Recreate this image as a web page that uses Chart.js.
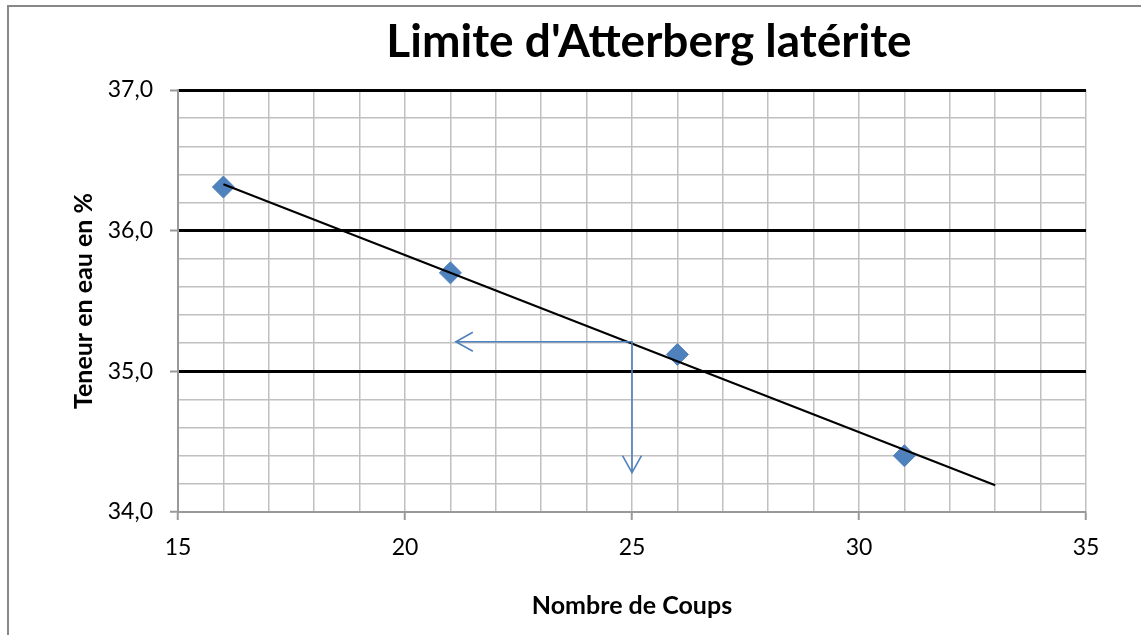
<!DOCTYPE html>
<html lang="fr">
    <head>
        <meta charset="UTF-8" />
        <title>Limite d'Atterberg latérite</title>
        <script src="https://cdn.jsdelivr.net/npm/chart.js@4.4.1/dist/chart.umd.min.js"></script>
        <style>
            html, body { margin: 0; padding: 0; background: #fff; overflow: hidden; }
            #cadre {
                position: absolute; left: 7px; top: 5px; width: 2000px; height: 2000px;
                border-top: 2px solid #888; border-left: 2px solid #888; pointer-events: none;
            }
            #graph { position: absolute; left: 0; top: 0; }
        </style>
    </head>
    <body>
        <canvas id="graph" width="1141" height="635"></canvas>
        <div id="cadre"></div>

        <script>
            // essais : nombre de coups / teneur en eau
            const coups = [16, 21, 26, 31];
            const teneur = [36.31, 35.70, 35.12, 34.40];

            // droite de tendance (extrémités)
            const tendanceX = [16, 33];
            const tendanceY = [36.33, 34.19];

            // lecture à 25 coups
            const lectureX = [21.12, 25, 25];
            const lectureY = [35.21, 35.21, 34.28];

            const xLabels = { 15: "15", 20: "20", 25: "25", 30: "30", 35: "35" };
            const yLabels = { 34: "34,0", 35: "35,0", 36: "36,0", 37: "37,0" };

            const titre = "Limite d'Atterberg latérite";
            const bleu = "#4F81BD";
            const estEntier = (v) => Math.abs(v - Math.round(v)) < 1e-6;

            // pointes de flèche ouvertes aux deux bouts de la lecture
            const fleches = {
                id: "fleches",
                afterDatasetsDraw(chart) {
                    const pts = chart.getDatasetMeta(2).data;
                    const ctx = chart.ctx;
                    const tete = (p, dx, dy) => {
                        const L = 17, W = 9.5;
                        const nx = -dy, ny = dx;
                        ctx.beginPath();
                        ctx.moveTo(p.x + dx * L + nx * W, p.y + dy * L + ny * W);
                        ctx.lineTo(p.x, p.y);
                        ctx.lineTo(p.x + dx * L - nx * W, p.y + dy * L - ny * W);
                        ctx.stroke();
                    };
                    ctx.save();
                    ctx.strokeStyle = bleu;
                    ctx.lineWidth = 1.6;
                    tete(pts[0], 1, 0);
                    tete(pts[2], 0, -1);
                    ctx.restore();
                },
            };

            // titre un peu décalé à droite du centre du graphe
            const enTete = {
                id: "enTete",
                afterDraw(chart) {
                    const ctx = chart.ctx;
                    ctx.save();
                    ctx.font = "bold 46px Lato";
                    ctx.fillStyle = "#000";
                    ctx.textAlign = "center";
                    ctx.textBaseline = "alphabetic";
                    ctx.fillText(titre, 649, 57);
                    ctx.restore();
                },
            };

            Chart.defaults.font.family = "Lato";
            Chart.defaults.color = "#000";

            const chart = new Chart("graph", {
                type: "scatter",
                data: {
                    datasets: [
                        {
                            data: coups.map((x, i) => ({ x: x, y: teneur[i] })),
                            pointStyle: "rectRot",
                            pointRadius: 11,
                            backgroundColor: bleu,
                            borderColor: bleu,
                            borderWidth: 1,
                            order: 2,
                        },
                        {
                            data: tendanceX.map((x, i) => ({ x: x, y: tendanceY[i] })),
                            showLine: true,
                            borderColor: "#000",
                            borderWidth: 2,
                            pointRadius: 0,
                            order: 1,
                        },
                        {
                            data: lectureX.map((x, i) => ({ x: x, y: lectureY[i] })),
                            showLine: true,
                            borderColor: bleu,
                            borderWidth: 1.6,
                            pointRadius: 0,
                            order: 0,
                        },
                    ],
                },
                options: {
                    responsive: false,
                    animation: false,
                    devicePixelRatio: 1,
                    layout: { padding: { left: 0, right: 55, top: 90, bottom: 0 } },
                    plugins: {
                        legend: { display: false },
                        tooltip: { enabled: false },
                        title: { display: false },
                    },
                    scales: {
                        x: {
                            type: "linear",
                            min: 15,
                            max: 35,
                            afterFit: (s) => { s.height = 123; },
                            border: { color: "#999", width: 2 },
                            grid: {
                                color: "#c0c0c0",
                                lineWidth: 1.5,
                                tickLength: 8,
                                tickWidth: 2,
                                tickColor: (c) => (xLabels[c.tick.value] ? "#999" : "rgba(0,0,0,0)"),
                            },
                            ticks: {
                                stepSize: 1,
                                autoSkip: false,
                                maxRotation: 0,
                                padding: 14,
                                font: { size: 23 },
                                callback: (v) => xLabels[v] || "",
                            },
                            title: {
                                display: true,
                                text: "Nombre de Coups",
                                font: { size: 25, weight: "bold", lineHeight: 1.2 },
                                padding: { top: 0, bottom: 14 },
                            },
                        },
                        y: {
                            type: "linear",
                            min: 34,
                            max: 37,
                            afterFit: (s) => { s.width = 178; },
                            border: { color: "#999", width: 2 },
                            grid: {
                                color: (c) => (estEntier(c.tick.value) && c.tick.value > 34 ? "#000" : "#c0c0c0"),
                                lineWidth: (c) => (estEntier(c.tick.value) && c.tick.value > 34 ? 3 : 1.5),
                                tickLength: 8,
                                tickWidth: 2,
                                tickColor: (c) => (estEntier(c.tick.value) ? "#999" : "rgba(0,0,0,0)"),
                            },
                            ticks: {
                                stepSize: 0.2,
                                autoSkip: false,
                                padding: 17,
                                font: { size: 23 },
                                callback: (v) => (estEntier(v) ? yLabels[Math.round(v)] : ""),
                            },
                            title: {
                                display: true,
                                text: "Teneur en eau en %",
                                font: { size: 25, weight: "bold", lineHeight: 1.2 },
                                padding: { top: 69, bottom: 0 },
                            },
                        },
                    },
                },
                plugins: [fleches, enTete],
            });
        </script>
    </body>
</html>
